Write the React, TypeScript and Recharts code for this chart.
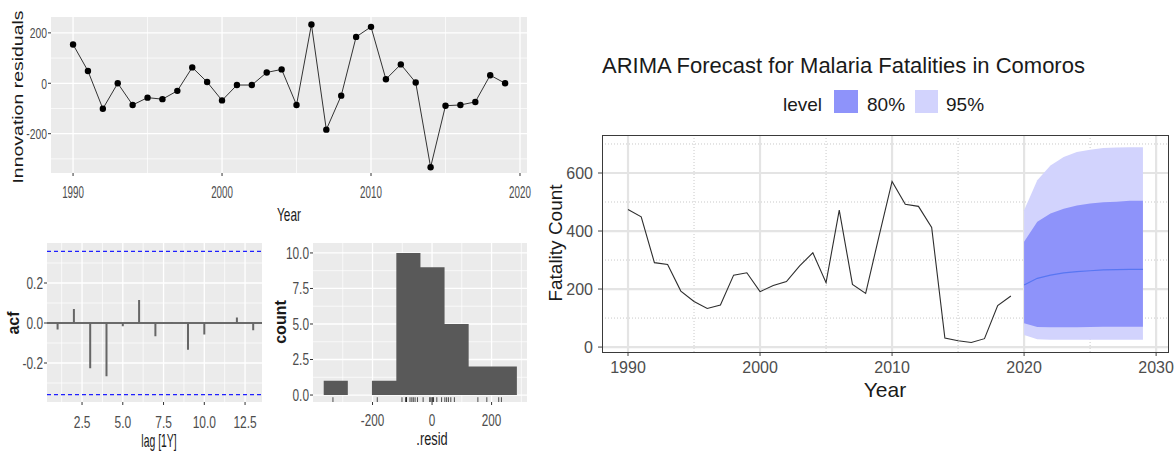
import React from 'react';
import { ComposedChart, Line, Area, Scatter, XAxis, YAxis, CartesianGrid, ReferenceLine } from 'recharts';

// residual diagnostics (top-left, bottom-left panels)
const years = [1990, 1991, 1992, 1993, 1994, 1995, 1996, 1997, 1998, 1999, 2000, 2001, 2002, 2003, 2004,
  2005, 2006, 2007, 2008, 2009, 2010, 2011, 2012, 2013, 2014, 2015, 2016, 2017, 2018, 2019];
const residuals = [154, 49, -101, 0, -86, -57, -63, -30, 63, 5, -68, -7, -7, 43, 55,
  -86, 233, -184, -49, 184, 224, 16, 75, 3, -333, -89, -86, -74, 32, 0];

const acfLags = [1, 2, 3, 4, 5, 6, 7, 8, 9, 10, 11, 12, 13];
const acfValues = [-0.033, 0.07, -0.226, -0.266, -0.016, 0.115, -0.066, 0.004, -0.134, -0.057, -0.003, 0.028, -0.036];
const acfBound = 0.358;

const histEdges = [-364, -283, -202, -120, -39, 42, 123, 204, 285];
const histCounts = [1, 0, 1, 10, 9, 5, 2, 2, 0];

// forecast panel
const fatalities = [474, 449, 291, 285, 193, 157, 133, 145, 248, 256, 191, 212, 226, 280, 325,
  222, 472, 216, 185, 380, 571, 492, 485, 412, 31, 22, 16, 29, 143, 176];
const forecastYears = [2020, 2021, 2022, 2023, 2024, 2025, 2026, 2027, 2028, 2029];
const forecastMean = [214, 237, 248, 256, 260, 263, 266, 267, 268, 268];
const lower80 = [82, 69, 68, 68, 68, 69, 70, 70, 70, 70];
const upper80 = [363, 432, 460, 477, 488, 495, 499, 501, 504, 504];
const lower95 = [42, 27, 25, 25, 25, 25, 25, 25, 25, 25];
const upper95 = [472, 575, 626, 655, 672, 680, 686, 688, 689, 689];

const SANS = '"Liberation Sans", Arial, Helvetica, sans-serif';

const residData = years.map((year, i) => ({ year, resid: residuals[i] }));
const acfData = acfLags.flatMap((lag, i) => [
  { lag, acf: 0 },
  { lag, acf: acfValues[i] },
  { lag, acf: null },
]);
const histData = histEdges.map((x, i) => ({ x, count: histCounts[i] }));
const rugData = residuals.map((r) => ({ x: r, y: -0.33 }));

const forecastData = [
  ...years.map((year, i) => ({ year, value: fatalities[i] })),
  ...forecastYears.map((year, i) => ({
    year,
    mean: forecastMean[i],
    band80: [lower80[i], upper80[i]],
    band95: [lower95[i], upper95[i]],
  })),
];

const fmt1 = (v: number) => v.toFixed(1);
const plain = (v: number) => String(v);

// the left panels in the picture are squeezed sideways, so their labels are too
const squeezedTick = (axis: 'x' | 'y', size: number, fmt = plain, sx = 0.74, sy = 1.12) => (p: any) => (
  <g transform={`translate(${p.x},${p.y})`}>
    <text x={0} y={0} dy={axis === 'x' ? '0.71em' : '0.355em'} textAnchor={axis === 'x' ? 'middle' : 'end'}
      fontSize={size} fontFamily={SANS} fill="#4d4d4d" transform={`scale(${sx},${sy})`}>
      {fmt(p.payload.value)}
    </text>
  </g>
);

const rightTick = { fill: '#4d4d4d', fontSize: 16, fontFamily: SANS };

function Txt({ x, y, size, children, weight = 400, color = '#1a1a1a', rotate = false, align = 'center', sx = 1, sy = 1 }: any) {
  const tx = align === 'center' ? '-50%' : '0';
  return (
    <div
      style={{
        position: 'absolute', left: x, top: y, fontSize: size, fontFamily: SANS, fontWeight: weight,
        color, lineHeight: 1, whiteSpace: 'nowrap',
        transform: `translate(${tx}, -50%)${rotate ? ' rotate(-90deg)' : ''} scale(${sx}, ${sy})`,
        transformOrigin: align === 'center' ? 'center' : 'left center',
      }}
    >
      {children}
    </div>
  );
}

const rugTick = (p: any) => (
  <line x1={p.cx} x2={p.cx} y1={p.cy - 2.5} y2={p.cy + 2.5} stroke="#222" strokeWidth={0.8} />
);

export default function App() {
  return (
    <div style={{ position: 'absolute', left: 0, top: 0, width: 1176, height: 452, background: '#fff', overflow: 'hidden' }}>
      {/* innovation residuals */}
      <div style={{ position: 'absolute', left: 0, top: 0 }}>
        <ComposedChart width={540} height={212} data={residData} margin={{ top: 17, right: 13, bottom: 0, left: 0 }}>
          <CartesianGrid fill="#ebebeb" stroke="#fff" strokeWidth={0.7} horizontalValues={[-300, -100, 100]} verticalValues={[1995, 2005, 2015]} />
          <CartesianGrid stroke="#fff" strokeWidth={1.3} horizontalValues={[-200, 0, 200]} verticalValues={[1990, 2000, 2010, 2020]} />
          <XAxis dataKey="year" type="number" domain={[1988.52, 2020.47]} allowDataOverflow ticks={[1990, 2000, 2010, 2020]}
            interval={0} height={39} axisLine={false} tickLine={{ stroke: '#333' }} tickSize={3} tickMargin={11}
            tick={squeezedTick('x', 14, plain, 0.7, 1.15)} />
          <YAxis type="number" domain={[-356, 263]} allowDataOverflow ticks={[-200, 0, 200]} interval={0} width={51}
            axisLine={false} tickLine={{ stroke: '#333' }} tickSize={3} tickMargin={1} tick={squeezedTick('y', 14, plain, 0.74, 1.05)} />
          <Line dataKey="resid" stroke="#333" strokeWidth={1} dot={{ r: 3.2, fill: '#000', stroke: '#000', strokeWidth: 0 }}
            activeDot={false} isAnimationActive={false} />
        </ComposedChart>
      </div>
      <Txt x={18} y={97} size={14} rotate sx={1.39}>Innovation residuals</Txt>
      <Txt x={289} y={215} size={16} sx={0.74} sy={1.2}>Year</Txt>

      {/* acf */}
      <div style={{ position: 'absolute', left: 0, top: 230 }}>
        <ComposedChart width={280} height={212} data={acfData} margin={{ top: 13, right: 18, bottom: 0, left: 0 }}>
          <CartesianGrid fill="#ebebeb" stroke="#fff" strokeWidth={0.7} horizontalValues={[-0.3, -0.1, 0.1, 0.3]} verticalValues={[1.25, 3.75, 6.25, 8.75, 11.25]} />
          <CartesianGrid stroke="#fff" strokeWidth={1.3} horizontalValues={[-0.2, 0, 0.2]} verticalValues={[2.5, 5, 7.5, 10, 12.5]} />
          <XAxis dataKey="lag" type="number" domain={[0.35, 13.54]} allowDataOverflow ticks={[2.5, 5, 7.5, 10, 12.5]}
            interval={0} height={40} axisLine={false} tickLine={{ stroke: '#333' }} tickSize={3} tickMargin={11}
            tick={squeezedTick('x', 15, fmt1, 0.8, 1.1)} />
          <YAxis type="number" domain={[-0.395, 0.4]} allowDataOverflow ticks={[-0.2, 0, 0.2]}
            interval={0} width={47} axisLine={false} tickLine={{ stroke: '#333' }} tickSize={3} tickMargin={1}
            tick={squeezedTick('y', 15, fmt1, 0.79, 1.1)} />
          <ReferenceLine y={0} stroke="#3a3a3a" strokeWidth={1.6} />
          <ReferenceLine y={acfBound} stroke="#1f1fff" strokeDasharray="4 3" strokeWidth={1.2} />
          <ReferenceLine y={-acfBound} stroke="#1f1fff" strokeDasharray="4 3" strokeWidth={1.2} />
          <Line dataKey="acf" stroke="#666" strokeWidth={2} dot={false} activeDot={false} connectNulls={false} isAnimationActive={false} />
        </ComposedChart>
      </div>
      <Txt x={14} y={323} size={16} weight={700} rotate>acf</Txt>
      <Txt x={159} y={441} size={16} sx={0.65} sy={1.2}>lag [1Y]</Txt>

      {/* histogram */}
      <div style={{ position: 'absolute', left: 270, top: 230 }}>
        <ComposedChart width={270} height={212} data={histData} margin={{ top: 13, right: 13, bottom: 0, left: 0 }}>
          <CartesianGrid fill="#ebebeb" stroke="#fff" strokeWidth={0.7} horizontalValues={[1.25, 3.75, 6.25, 8.75]} verticalValues={[-300, -100, 100, 300]} />
          <CartesianGrid stroke="#fff" strokeWidth={1.3} horizontalValues={[0, 2.5, 5, 7.5, 10]} verticalValues={[-200, 0, 200]} />
          <XAxis dataKey="x" type="number" domain={[-400, 319]} allowDataOverflow ticks={[-200, 0, 200]} interval={0} height={40}
            axisLine={false} tickLine={{ stroke: '#333' }} tickSize={3} tickMargin={9} tick={squeezedTick('x', 15, plain, 0.78, 1.1)} />
          <YAxis type="number" domain={[-0.49, 10.7]} allowDataOverflow ticks={[0, 2.5, 5, 7.5, 10]}
            interval={0} width={43} axisLine={false} tickLine={{ stroke: '#333' }} tickSize={3} tickMargin={1}
            tick={squeezedTick('y', 15, fmt1, 0.79, 1.1)} />
          <Area dataKey="count" type="stepAfter" baseValue={0} fill="#595959" fillOpacity={1} stroke="none" dot={false} activeDot={false} isAnimationActive={false} />
          <Scatter data={rugData} dataKey="y" shape={rugTick} isAnimationActive={false} />
        </ComposedChart>
      </div>
      <Txt x={281} y={322} size={16} weight={700} rotate>count</Txt>
      <Txt x={432} y={439} size={16} sx={0.8} sy={1.2}>.resid</Txt>

      {/* forecast */}
      <Txt x={602} y={65.5} size={22} align="left">ARIMA Forecast for Malaria Fatalities in Comoros</Txt>
      <Txt x={783} y={104} size={19} align="left">level</Txt>
      <div style={{ position: 'absolute', left: 834, top: 90, width: 24, height: 23, background: '#8e93fa' }} />
      <Txt x={867} y={104} size={19} align="left">80%</Txt>
      <div style={{ position: 'absolute', left: 915, top: 90, width: 23, height: 23, background: '#d2d3fd' }} />
      <Txt x={946} y={104} size={19} align="left">95%</Txt>

      <div style={{ position: 'absolute', left: 560, top: 120 }}>
        <ComposedChart width={616} height={262} data={forecastData} margin={{ top: 15, right: 8, bottom: 0, left: 0 }}>
          <CartesianGrid fill="#fff" stroke="#c9c9c9" strokeWidth={1} strokeDasharray="1 2"
            horizontalValues={[100, 300, 500, 700]} verticalValues={[1995, 2005, 2015, 2025]} />
          <CartesianGrid stroke="#e4e4e4" strokeWidth={2.2} horizontalValues={[0, 200, 400, 600]} verticalValues={[1990, 2000, 2010, 2020, 2030]} />
          <XAxis dataKey="year" type="number" domain={[1988.03, 2030.9]} allowDataOverflow ticks={[1990, 2000, 2010, 2020, 2030]}
            interval={0} height={30} axisLine={false} tickLine={{ stroke: '#444' }} tickSize={4} tickMargin={6} tick={rightTick} />
          <YAxis type="number" domain={[-17, 731]} allowDataOverflow ticks={[0, 200, 400, 600]} interval={0} width={42}
            axisLine={false} tickLine={{ stroke: '#444' }} tickSize={4} tickMargin={5} tick={rightTick} />
          <Area dataKey="band95" type="linear" fill="#d2d3fd" fillOpacity={1} stroke="none" dot={false} activeDot={false} isAnimationActive={false} />
          <Area dataKey="band80" type="linear" fill="#8e93fa" fillOpacity={1} stroke="none" dot={false} activeDot={false} isAnimationActive={false} />
          <Line dataKey="mean" type="linear" stroke="#5876f2" strokeWidth={1.2} dot={false} activeDot={false} isAnimationActive={false} />
          <Line dataKey="value" type="linear" stroke="#2e2e2e" strokeWidth={1.1} dot={false} activeDot={false} isAnimationActive={false} />
        </ComposedChart>
      </div>
      <div style={{ position: 'absolute', left: 601.5, top: 134.5, width: 567, height: 218, border: '1.4px solid #3a3a3a', boxSizing: 'border-box', pointerEvents: 'none' }} />
      <Txt x={555} y={243} size={19} rotate>Fatality Count</Txt>
      <Txt x={885} y={388.5} size={21}>Year</Txt>
    </div>
  );
}
